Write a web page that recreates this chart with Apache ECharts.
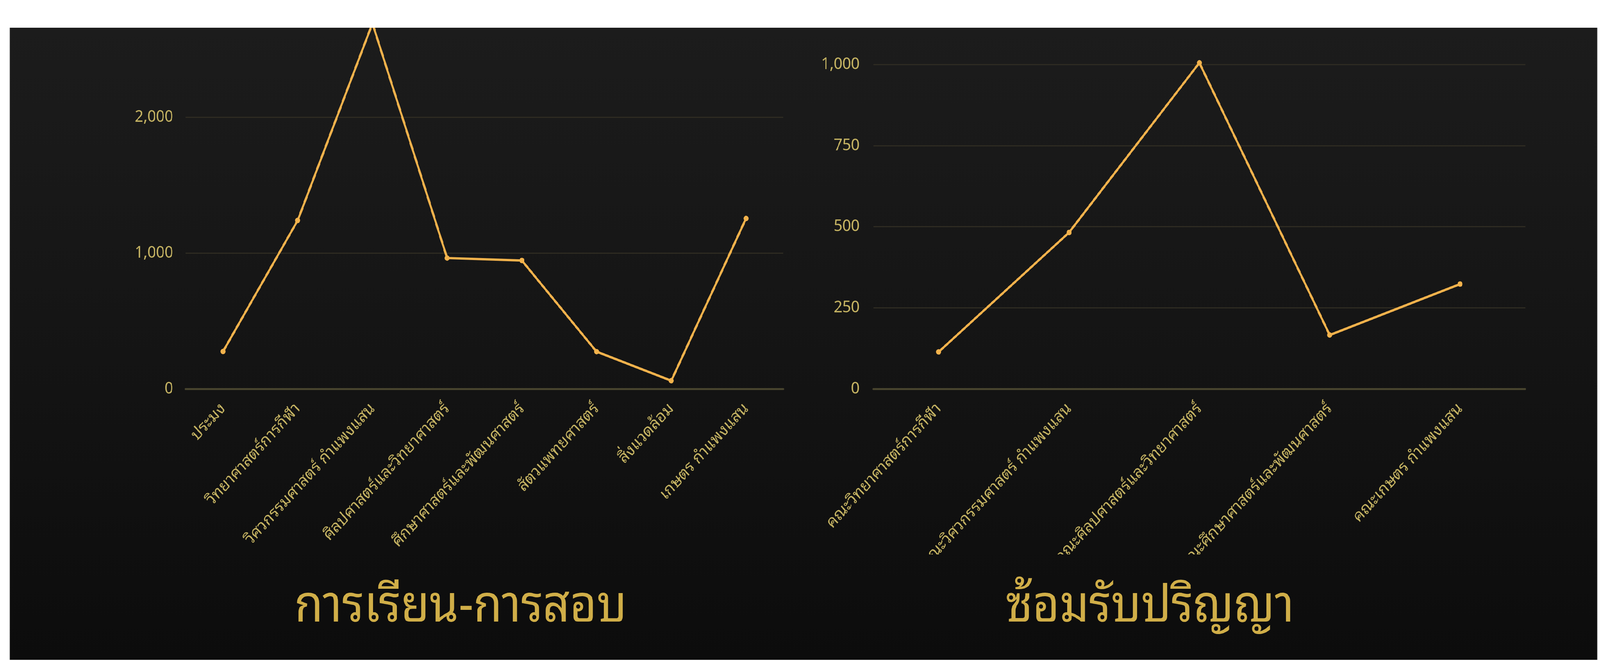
<!DOCTYPE html>
<html>
<head>
<meta charset="utf-8">
<script src="https://cdn.jsdelivr.net/npm/echarts@6/dist/echarts.min.js"></script>
<style>
  html, body { margin: 0; padding: 0; background: #ffffff; overflow: hidden; }
  #stage { position: absolute; left: 0; top: 0; width: 4473px; height: 1693px; transform-origin: 0 0; background: #ffffff; overflow: hidden; }
  #panel { position: absolute; left: 27px; top: 71px; width: 4438px; height: 1619px;
           background: linear-gradient(180deg, #1c1c1c 0%, #161616 40%, #0c0c0c 100%); z-index: 0; }
  #chart { position: absolute; left: 0; top: 0; width: 4473px; height: 1420px; z-index: 1; }
  #titles { position: absolute; left: 0; top: 1420px; width: 4473px; height: 270px; z-index: 1; }
  #maskTop { position: absolute; left: 0; top: 0; width: 4473px; height: 71px; background: #ffffff; z-index: 2; }
</style>
</head>
<body>
<div id="stage">
  <div id="panel"></div>
  <div id="chart"></div>
  <div id="titles"></div>
  <div id="maskTop"></div>
</div>
<script>
// ---- data ----
const leftCategories = ['ประมง', 'วิทยาศาสตร์การกีฬา', 'วิศวกรรมศาสตร์ กำแพงแสน', 'ศิลปศาสตร์และวิทยาศาสตร์', 'ศึกษาศาสตร์และพัฒนศาสตร์', 'สัตวแพทยศาสตร์', 'สิ่งแวดล้อม', 'เกษตร กำแพงแสน'];
const leftValues = [275, 1240, 2690, 963, 945, 274, 60, 1254];
const rightCategories = ['คณะวิทยาศาสตร์การกีฬา', 'คณะวิศวกรรมศาสตร์ กำแพงแสน', 'คณะศิลปศาสตร์และวิทยาศาสตร์', 'คณะศึกษาศาสตร์และพัฒนศาสตร์', 'คณะเกษตร กำแพงแสน'];
const rightValues = [114, 482, 1005, 166, 323];
const leftTicks = [0, 1000, 2000];
const rightTicks = [0, 250, 500, 750, 1000];
const leftTitle = 'การเรียน-การสอบ';
const rightTitle = 'ซ้อมรับปริญญา';

// fit the 4473px-wide design into the actual viewport
(function () {
  const k = Math.min(1, window.innerWidth / 4473);
  const ky = Math.min(1, window.innerHeight / 1693);
  document.getElementById('stage').style.transform = 'scale(' + k + ',' + ky + ')';
})();

// ---- styles ----
const FONT = '"Noto Sans Thai Looped", "Loma", "Garuda", "Waree", "Noto Sans Thai", "Noto Sans", "Liberation Sans", sans-serif';
const LABEL_COLOR = '#c4b262';
const LINE_COLOR = '#f2b24c';
const GRID_COLOR = '#2e2b22';
const AXIS_COLOR = '#48442e';

function fmt(v) { return v.toLocaleString('en-US'); }

function yAxisCfg(ticks, max, interval, margin) {
  return {
    type: 'value', min: 0, max: max, interval: interval,
    axisLine: { show: false }, axisTick: { show: false },
    axisLabel: {
      color: LABEL_COLOR, fontSize: 42, fontFamily: FONT, margin: margin,
      showMaxLabel: ticks.indexOf(max) >= 0,
      formatter: function (v) { return ticks.indexOf(v) >= 0 ? fmt(v) : ''; }
    },
    splitLine: { show: true, lineStyle: { color: GRID_COLOR, width: 3 } }
  };
}

function xAxisCfg(cats) {
  return {
    type: 'category', data: cats, boundaryGap: true,
    axisLine: { show: true, lineStyle: { color: AXIS_COLOR, width: 5 } },
    axisTick: { show: false },
    axisLabel: { color: LABEL_COLOR, fontSize: 43, fontFamily: FONT, rotate: 45, margin: 44, interval: 0, hideOverlap: false }
  };
}

function lineSeries(xi, vals) {
  return {
    type: 'line', xAxisIndex: xi, yAxisIndex: xi, data: vals,
    symbol: 'circle', symbolSize: 14, clip: false,
    lineStyle: { color: LINE_COLOR, width: 6 },
    itemStyle: { color: LINE_COLOR },
    animation: false
  };
}

const chart = echarts.init(document.getElementById('chart'), null, { renderer: 'canvas' });
chart.setOption({
  backgroundColor: 'transparent',
  animation: false,
  grid: [
    { left: 519, top: 21.6, width: 1671, height: 974.4, containLabel: false, outerBoundsMode: 'none' },
    { left: 2442, top: 165, width: 1822, height: 831, containLabel: false, outerBoundsMode: 'none' }
  ],
  xAxis: [
    Object.assign({ gridIndex: 0 }, xAxisCfg(leftCategories)),
    Object.assign({ gridIndex: 1 }, xAxisCfg(rightCategories))
  ],
  yAxis: [
    Object.assign({ gridIndex: 0 }, yAxisCfg(leftTicks, 2800, 1000, 35)),
    Object.assign({ gridIndex: 1 }, yAxisCfg(rightTicks, 1000, 250, 39))
  ],
  series: [lineSeries(0, leftValues), lineSeries(1, rightValues)]
});

const titles = echarts.init(document.getElementById('titles'), null, { renderer: 'canvas' });
titles.setOption({
  backgroundColor: 'transparent',
  animation: false,
  title: [
    { text: leftTitle, left: 1283, top: 130, textAlign: 'center', textVerticalAlign: 'middle',
      textStyle: { color: '#d0ae48', fontSize: 130, fontWeight: 'normal', fontFamily: FONT } },
    { text: rightTitle, left: 3210, top: 130, textAlign: 'center', textVerticalAlign: 'middle',
      textStyle: { color: '#d0ae48', fontSize: 130, fontWeight: 'normal', fontFamily: FONT } }
  ]
});
</script>
</body>
</html>
